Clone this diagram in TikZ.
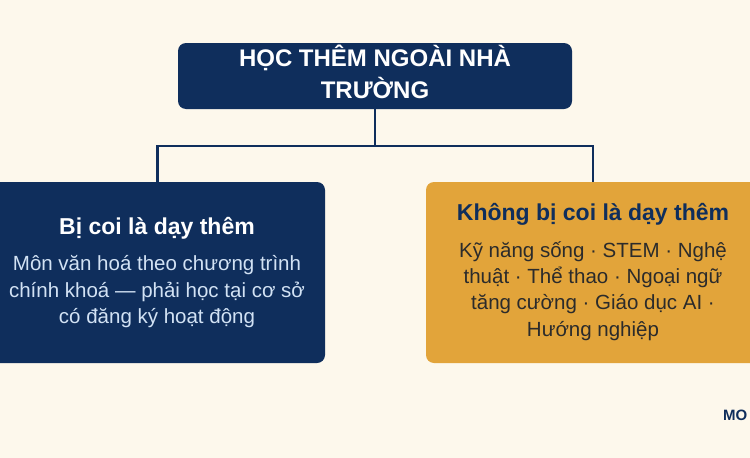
\documentclass[tikz,border=0pt]{standalone}
\usepackage{fontspec}
\setmainfont{Liberation Sans}
\definecolor{navy}{HTML}{0F2E5C}
\definecolor{gold}{HTML}{E2A43A}
\definecolor{cream}{HTML}{FDF8EC}
\definecolor{lightblue}{HTML}{D2E2F4}
\definecolor{darktext}{HTML}{2B2B2B}
\begin{document}
\begin{tikzpicture}[x=1pt,y=-1pt,
  box/.style={rectangle, rounded corners=8pt, inner sep=0pt, draw=none},
  conn/.style={draw=navy, line width=2.4pt},
  headtxt/.style={anchor=base, inner sep=0pt, text=white, font=\fontsize{24}{30}\selectfont\bfseries},
  subtitle/.style={anchor=base, inner sep=0pt, font=\fontsize{23}{28}\selectfont\bfseries},
  bodytxt/.style={anchor=base, inner sep=0pt, font=\fontsize{20.5}{26}\selectfont},
  marktxt/.style={anchor=base west, inner sep=0pt, text=navy, font=\fontsize{15}{18}\selectfont\bfseries}]
\useasboundingbox (0,0) rectangle (750,458);
\fill[cream] (0,0) rectangle (750,458);
% boxes
\node[box, fill=navy, minimum width=394pt, minimum height=66pt] (title) at (375,76) {};
\node[box, fill=navy, minimum width=335pt, minimum height=181pt] (left) at (157.5,272.5) {};
\node[box, fill=gold, minimum width=334pt, minimum height=181pt] (right) at (593,272.5) {};
% connectors
\coordinate (hub) at (375,146);
\draw[conn] (title.south) -- (title.south |- hub);
\draw[conn] (left.north) -- (left.north |- hub) -- (right.north |- hub) -- (right.north);
% title text
\node[headtxt] (t1) at (375,66) {HỌC THÊM NGOÀI NHÀ};
\node[headtxt] (t2) at (375,98) {TRƯỜNG};
% left text
\node[subtitle, text=white] (lt) at (157,234) {Bị coi là dạy thêm};
\node[bodytxt, text=lightblue] (l1) at (157,270) {Môn văn hoá theo chương trình};
\node[bodytxt, text=lightblue] (l2) at (157,297) {chính khoá — phải học tại cơ sở};
\node[bodytxt, text=lightblue] (l3) at (157,323) {có đăng ký hoạt động};
% right text
\node[subtitle, text=navy] (rt) at (593,220) {Không bị coi là dạy thêm};
\node[bodytxt, text=darktext] (r1) at (593,257) {Kỹ năng sống · STEM · Nghệ};
\node[bodytxt, text=darktext] (r2) at (593,283) {thuật · Thể thao · Ngoại ngữ};
\node[bodytxt, text=darktext] (r3) at (593,309) {tăng cường · Giáo dục AI ·};
\node[bodytxt, text=darktext] (r4) at (593,336) {Hướng nghiệp};
% corner mark
\node[marktxt] (mark) at (723,420) {MO};
\end{tikzpicture}
\end{document}
